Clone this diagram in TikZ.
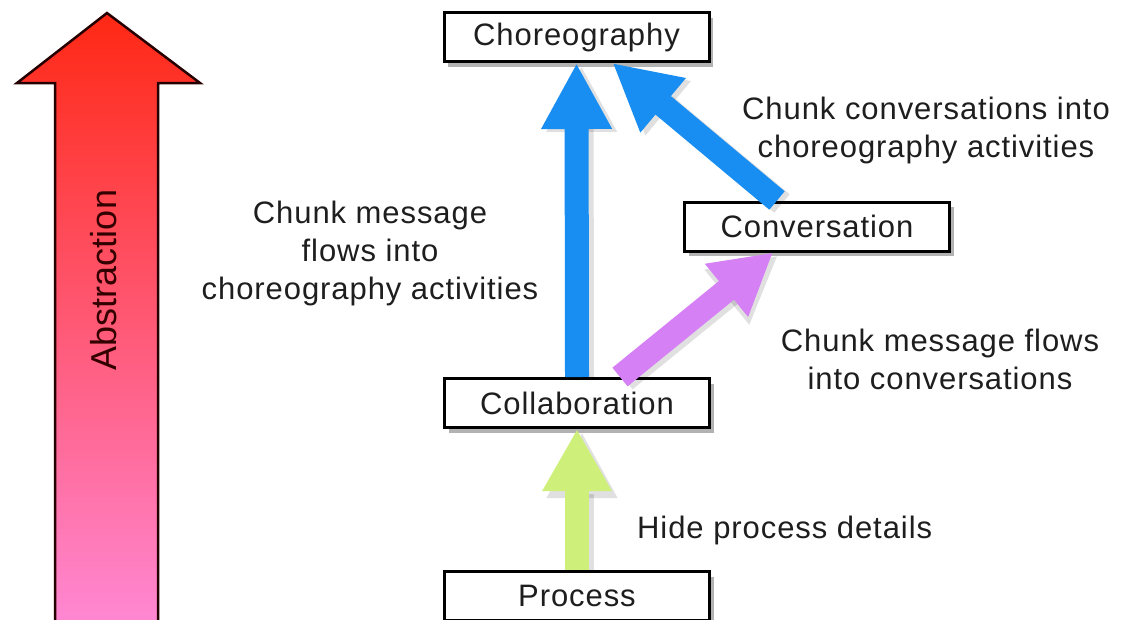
\documentclass[tikz,border=0pt]{standalone}
\usepackage{fontspec}
\setmainfont{Liberation Sans}[LetterSpace=3]
\newfontfamily\scalefont{Liberation Sans}
\usetikzlibrary{arrows.meta,shadows,calc}

\definecolor{flowblue}{RGB}{24,142,242}
\definecolor{flowpurple}{RGB}{214,128,246}
\definecolor{flowgreen}{RGB}{206,240,122}
\definecolor{abstop}{RGB}{255,40,20}
\definecolor{absbottom}{RGB}{255,138,216}
\definecolor{inktext}{RGB}{30,30,30}

\begin{document}
\begin{tikzpicture}[x=1pt,y=-1pt,
  stagebox/.style={draw=black, line width=3pt, fill=white,
    minimum width=265pt, minimum height=49pt, inner sep=0pt,
    font=\fontsize{31}{31}\selectfont, text=inktext,
    drop shadow={shadow xshift=4pt, shadow yshift=-5pt, opacity=0.3, fill=black}},
  note/.style={font=\fontsize{31}{38}\selectfont, text=inktext, align=center, inner sep=0pt},
  bigarrow/.style={line width=24pt, -{Triangle[length=66pt,width=66pt]}},
  arrowshade/.style={bigarrow, draw=black, opacity=0.12,
    transform canvas={shift={(5pt,-3pt)}}},
]
\useasboundingbox (0,0) rectangle (1129,619);
\fill[white] (0,0) rectangle (1129,619);

% abstraction scale on the left
\draw[line width=2.5pt, draw=black!85!red, top color=abstop, bottom color=absbottom, line join=miter]
  (55,640) -- (55,83) -- (17,83) -- (107,13) -- (200,83) -- (158,83) -- (158,640);
\node[rotate=90, font=\scalefont\fontsize{36}{36}\selectfont, text=black!80!red] (abs) at (104,280) {Abstraction};

% levels
\node[stagebox] (chor)   at (576.5,37)  {Choreography};
\node[stagebox] (conv)   at (817,226.5) {Conversation};
\node[stagebox] (collab) at (577,403)   {Collaboration};
\node[stagebox] (proc)   at (577,596)   {Process};

% connectors: soft shadows first
\draw[arrowshade] (collab.north) -- (chor.south);
\draw[arrowshade] ([xshift=-40pt]conv.north) -- ([xshift=36pt]chor.south);
\draw[arrowshade] ([xshift=43pt]collab.north) -- ([xshift=-44pt]conv.south);
\draw[arrowshade] (proc.north) -- (collab.south);

\draw[bigarrow, flowblue] (collab.north) -- (chor.south);
\draw[bigarrow, flowblue] ([xshift=-40pt]conv.north) -- ([xshift=36pt]chor.south);
\draw[bigarrow, flowpurple, -{Triangle[length=60pt,width=64pt]}] ([xshift=43pt]collab.north) -- ([xshift=-44pt]conv.south);
\draw[bigarrow, flowgreen, -{Triangle[length=62pt,width=65pt]}] (proc.north) -- (collab.south);

% labels
\node[note] (lchor) at (370,253) {Chunk message\\flows  into\\choreography activities};
\node[note] (lconv) at (926,130) {Chunk conversations  into\\choreography activities};
\node[note] (lmsg)  at (940,359) {Chunk message flows\\into conversations};
\node[note, anchor=west] (lhide) at (637,530) {Hide process details};
\end{tikzpicture}
\end{document}
